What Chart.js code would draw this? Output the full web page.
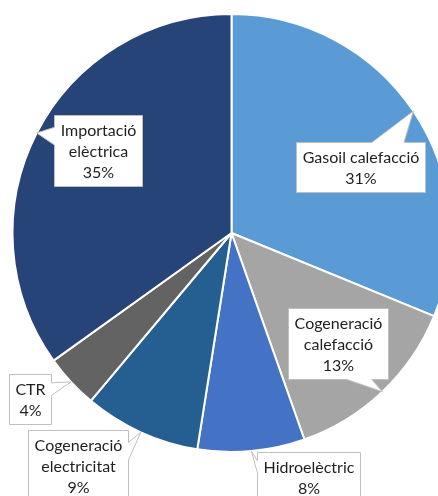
<!DOCTYPE html>
<html>
<head>
<meta charset="utf-8">
<script src="https://cdn.jsdelivr.net/npm/chart.js@4/dist/chart.umd.min.js"></script>
<style>
html,body{margin:0;padding:0;background:#fff;overflow:hidden;width:438px;height:496px;}
#wrap{position:absolute;left:0;top:0;width:463px;height:496px;}
</style>
</head>
<body>
<div id="wrap"><canvas id="c" width="463" height="496"></canvas></div>
<script>
// ---- data ----
const categories = ['Gasoil calefacció', 'Cogeneració calefacció', 'Hidroelèctric', 'Cogeneració electricitat', 'CTR', 'Importació elèctrica'];
const labelLines = [['Gasoil calefacció'], ['Cogeneració', 'calefacció'], ['Hidroelèctric'], ['Cogeneració', 'electricitat'], ['CTR'], ['Importació', 'elèctrica']];
const values = [31.2, 13.4, 7.9, 8.6, 4.0, 34.9];
const colors = ['#5B9BD5', '#A5A5A5', '#4472C4', '#255E91', '#636363', '#264478'];

// callout box centre offsets relative to the slice's outer mid point (layout only)
const calloutOffsets = [[-53, 56], [-44, -48], [57, 26], [-63, 33], [-41, 17], [61, 18]];

const total = values.reduce((a, b) => a + b, 0);

const calloutPlugin = {
  id: 'callouts',
  afterDatasetsDraw(chart) {
    const ctx = chart.ctx;
    const meta = chart.getDatasetMeta(0);
    const font = '16px Lato, "Open Sans", sans-serif';
    const lh = 21, hpad = 6, vpad = 4;
    ctx.save();
    ctx.font = font;
    meta.data.forEach((arc, i) => {
      const p = arc.getProps(['x', 'y', 'startAngle', 'endAngle', 'outerRadius'], true);
      const mid = (p.startAngle + p.endAngle) / 2;
      const tx = p.x + Math.cos(mid) * p.outerRadius;
      const ty = p.y + Math.sin(mid) * p.outerRadius;
      const lines = labelLines[i].concat([Math.round(values[i] / total * 100) + '%']);
      let tw = 0;
      lines.forEach(l => { tw = Math.max(tw, ctx.measureText(l).width); });
      const w = Math.round(tw + hpad * 2);
      const h = Math.round(lines.length * lh + vpad * 2);
      const cx = tx + calloutOffsets[i][0];
      const cy = ty + calloutOffsets[i][1];
      const l = Math.round(cx - w / 2) + 0.5, t = Math.round(cy - h / 2) + 0.5;
      const r = l + w, b = t + h;
      const dx = tx - cx, dy = ty - cy;
      let side;
      if (Math.abs(dx) * h > Math.abs(dy) * w) side = dx > 0 ? 'right' : 'left';
      else side = dy > 0 ? 'bottom' : 'top';
      const fa = 2 / 12, fb = 5 / 12, ga = 7 / 12, gb = 10 / 12;
      ctx.beginPath();
      ctx.moveTo(l, t);
      if (side === 'top') {
        const a = dx > 0 ? ga : fa, bb = dx > 0 ? gb : fb;
        ctx.lineTo(l + w * a, t); ctx.lineTo(tx, ty); ctx.lineTo(l + w * bb, t);
      }
      ctx.lineTo(r, t);
      if (side === 'right') {
        const a = dy > 0 ? ga : fa, bb = dy > 0 ? gb : fb;
        ctx.lineTo(r, t + h * a); ctx.lineTo(tx, ty); ctx.lineTo(r, t + h * bb);
      }
      ctx.lineTo(r, b);
      if (side === 'bottom') {
        const a = dx > 0 ? ga : fa, bb = dx > 0 ? gb : fb;
        ctx.lineTo(l + w * bb, b); ctx.lineTo(tx, ty); ctx.lineTo(l + w * a, b);
      }
      ctx.lineTo(l, b);
      if (side === 'left') {
        const a = dy > 0 ? ga : fa, bb = dy > 0 ? gb : fb;
        ctx.lineTo(l, t + h * bb); ctx.lineTo(tx, ty); ctx.lineTo(l, t + h * a);
      }
      ctx.closePath();
      ctx.fillStyle = '#ffffff';
      ctx.fill();
      ctx.strokeStyle = '#BFBFBF';
      ctx.lineWidth = 1;
      ctx.stroke();
      ctx.fillStyle = '#1f1f1f';
      ctx.textAlign = 'center';
      ctx.textBaseline = 'middle';
      lines.forEach((ln, k) => {
        ctx.fillText(ln, (l + r) / 2, t + vpad + lh / 2 + k * lh + 1);
      });
    });
    ctx.restore();
  }
};

new Chart(document.getElementById('c'), {
  type: 'pie',
  data: {
    labels: categories,
    datasets: [{
      data: values,
      backgroundColor: colors,
      borderColor: '#ffffff',
      borderWidth: 2
    }]
  },
  options: {
    responsive: false,
    animation: false,
    radius: 219,
    layout: { padding: { top: 0, left: 0, right: 0, bottom: 30 } },
    plugins: { legend: { display: false }, tooltip: { enabled: false } }
  },
  plugins: [calloutPlugin]
});
</script>
</body>
</html>
